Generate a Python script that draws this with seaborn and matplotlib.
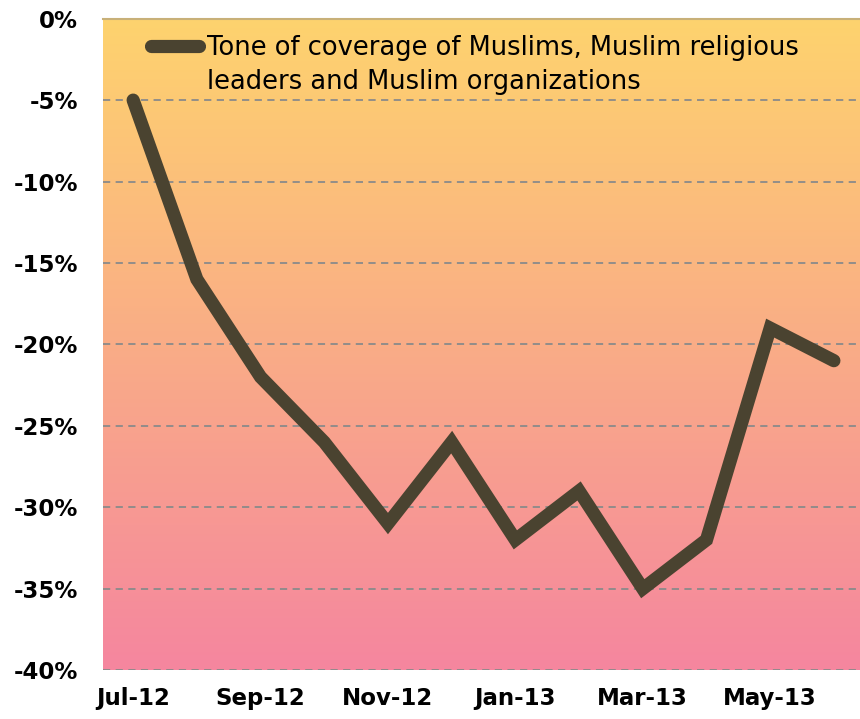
import numpy as np
import matplotlib
matplotlib.use("Agg")
import matplotlib.pyplot as plt
from matplotlib.colors import LinearSegmentedColormap
from matplotlib.lines import Line2D
from matplotlib.ticker import FuncFormatter
import seaborn as sns

# Data
months = ["Jul-12", "Aug-12", "Sep-12", "Oct-12", "Nov-12", "Dec-12",
          "Jan-13", "Feb-13", "Mar-13", "Apr-13", "May-13", "Jun-13"]
tone = [-5, -16, -22, -26, -31, -26, -32, -29, -35, -32, -19, -21]
label_line1 = "Tone of coverage of Muslims, Muslim religious"
label_line2 = "leaders and Muslim organizations"
yticks = [0, -5, -10, -15, -20, -25, -30, -35, -40]

sns.set_theme(style="white")
plt.rcParams['font.family'] = ['DejaVu Sans']

fig = plt.figure(figsize=(8.6, 7.19), dpi=100)
ax = fig.add_axes([0.12, 0.068, 0.88, 0.906])

# gradient background, yellow on top to pink at bottom
cmap = LinearSegmentedColormap.from_list("bg", ["#F5869F", "#FED36E"])
grad = np.linspace(0, 1, 256).reshape(-1, 1)
ax.imshow(grad, aspect="auto", cmap=cmap, origin="lower",
          extent=[0, 1, 0, 1], transform=ax.transAxes, zorder=0)

sns.lineplot(x=months, y=tone, sort=False, ax=ax, color="#4a4330",
             linewidth=9.5, solid_capstyle="round", solid_joinstyle="miter",
             label=label_line1, zorder=3)

ax.set_xlim(-0.47, 11.41)
ax.set_ylim(-40, 0)
ax.set_yticks(yticks)
ax.yaxis.set_major_formatter(FuncFormatter(lambda v, p: f"{v:.0f}%"))
ax.set_xticks(range(0, len(months), 2))
ax.set_xticklabels(months[::2])

for y in yticks[1:]:
    ax.axhline(y, color="#8a8a8a", linestyle=(0, (4, 3)), linewidth=1.3, zorder=1)

for s in ["left", "right", "bottom"]:
    ax.spines[s].set_visible(False)
ax.spines["top"].set_color("#c8b078")
ax.spines["top"].set_linewidth(1.5)

ax.tick_params(axis="both", length=0, labelsize=16.5, colors="black")
ax.tick_params(axis="y", pad=18)
ax.tick_params(axis="x", pad=12)
for lab in ax.get_xticklabels() + ax.get_yticklabels():
    lab.set_fontweight("bold")
ax.set_xlabel("")
ax.set_ylabel("")

# legend: line handle next to first row, second row of text has no handle
handles, labels = ax.get_legend_handles_labels()
handles.append(Line2D([], [], color="none"))
labels.append(label_line2)
leg = ax.legend(handles, labels, loc="upper left", bbox_to_anchor=(0.063, 0.975),
                frameon=False, borderpad=0, borderaxespad=0,
                handlelength=1.87, handletextpad=0.3, labelspacing=0.3,
                prop={"size": 18.5})
for t in leg.get_texts():
    t.set_color("black")

fig.savefig("out.png", dpi=100)
